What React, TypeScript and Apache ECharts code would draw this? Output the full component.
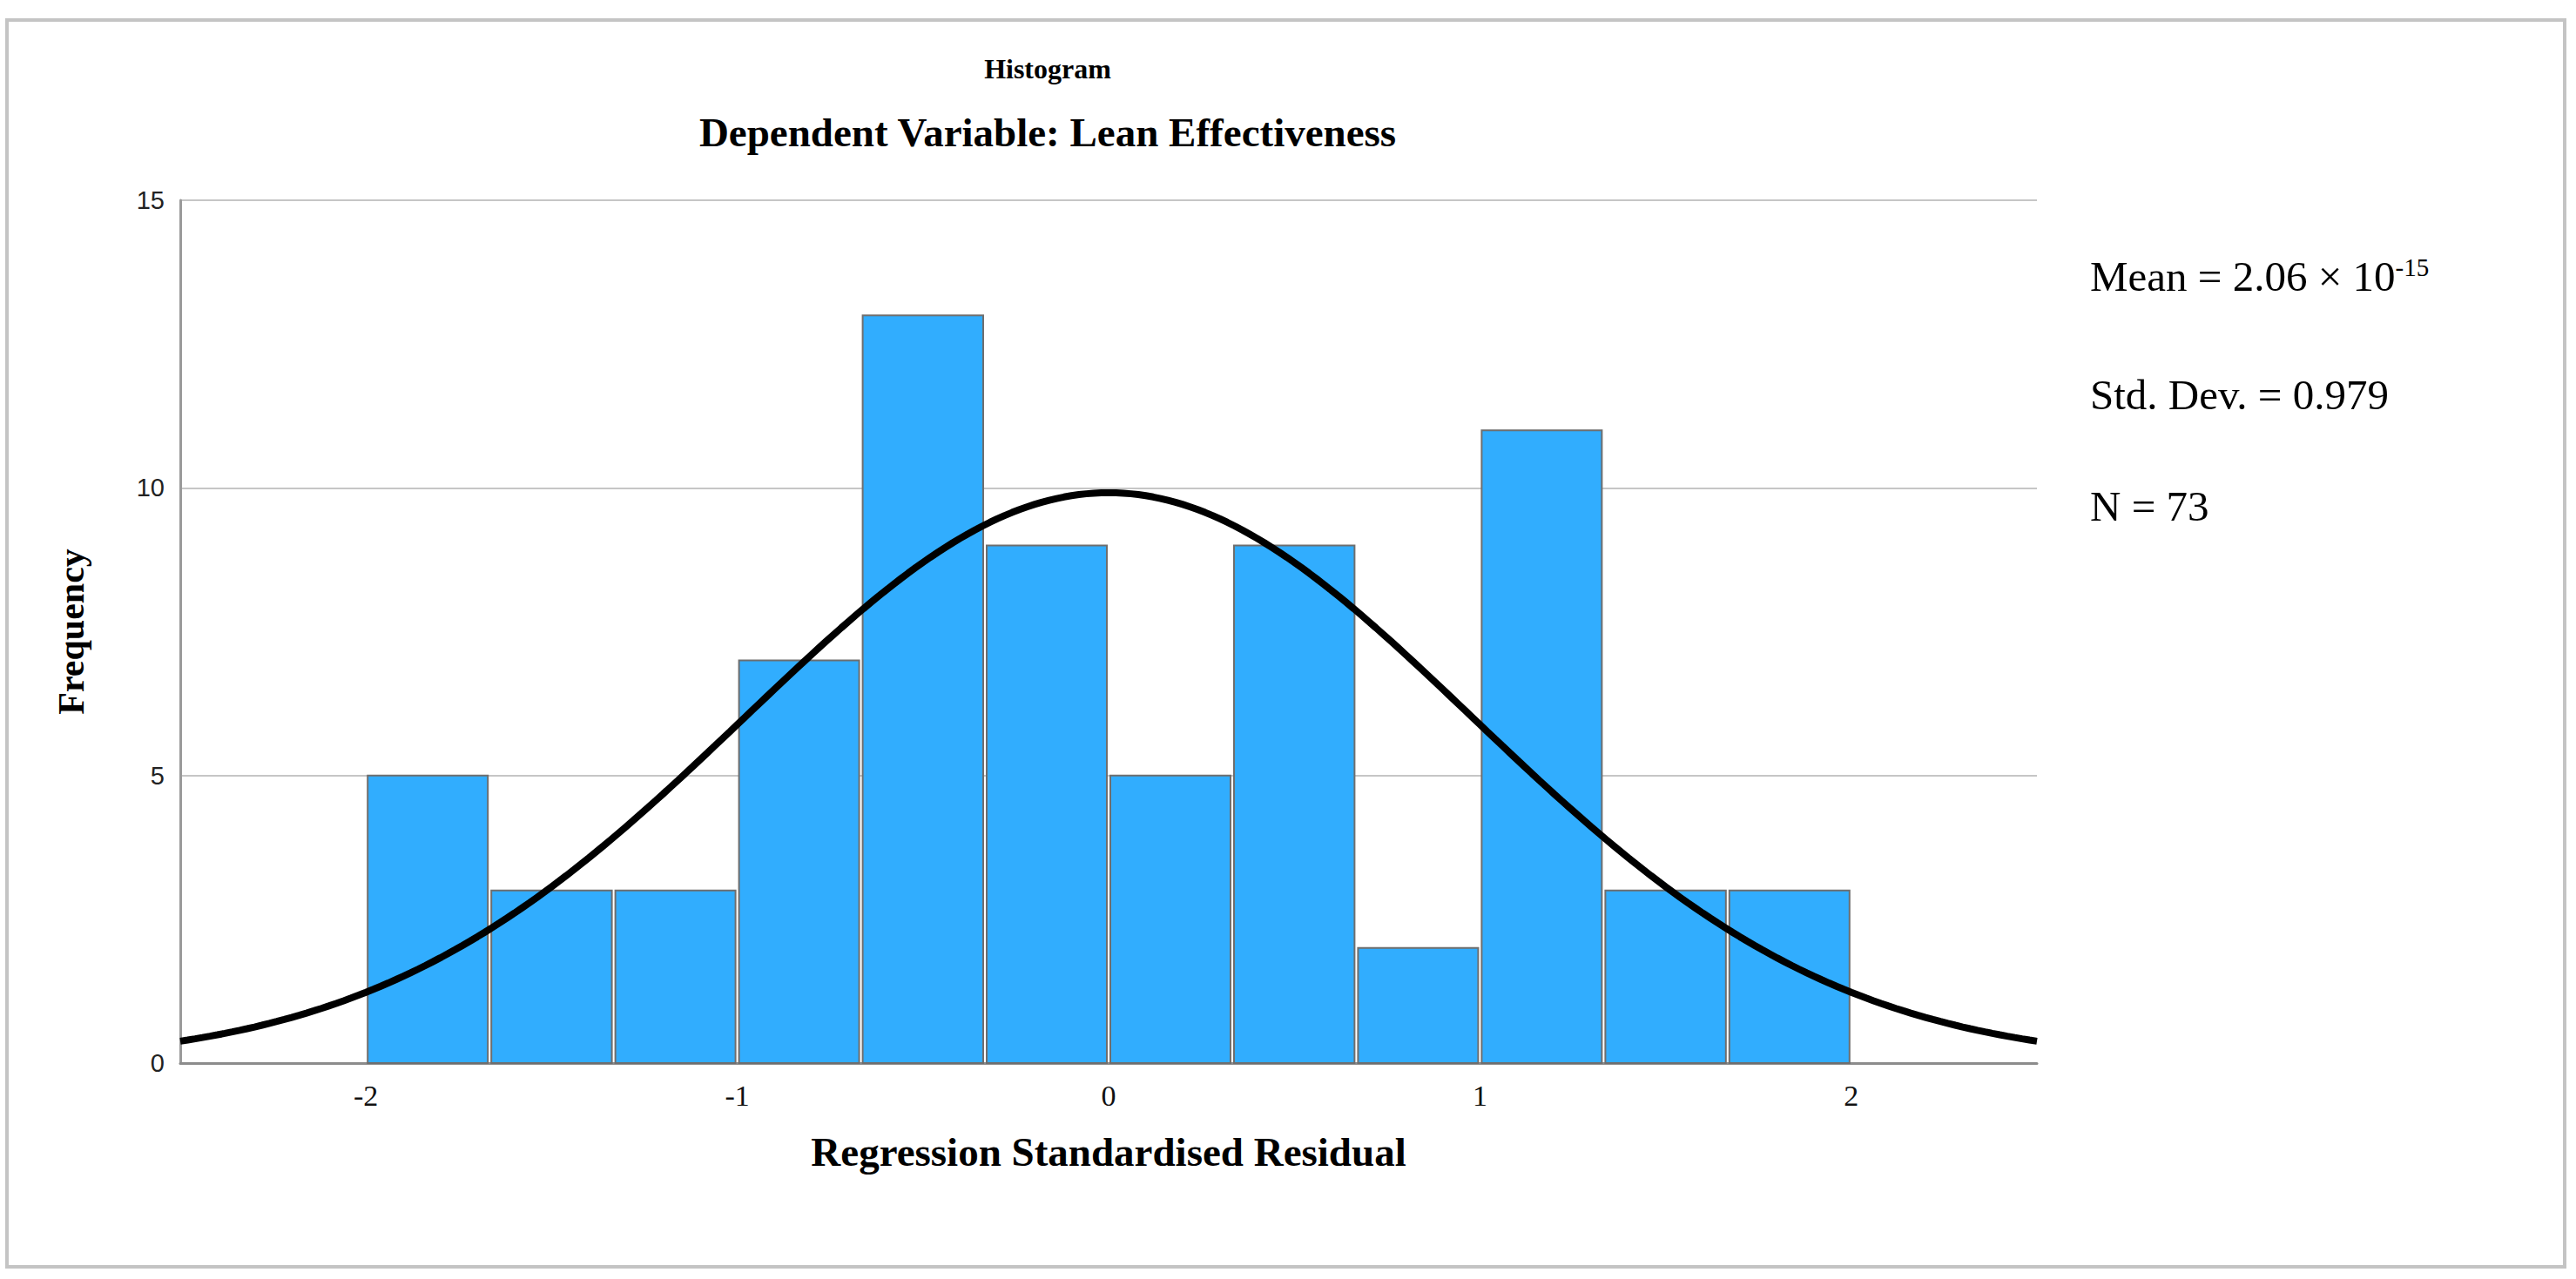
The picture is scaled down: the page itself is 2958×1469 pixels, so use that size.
import React, { useEffect, useRef } from "react";
import * as echarts from "echarts";

// Histogram bins (Regression Standardised Residual), bin edges and counts
const binEdges = [-2.0, -1.667, -1.333, -1.0, -0.667, -0.333, 0.0, 0.333, 0.667, 1.0, 1.333, 1.667, 2.0];
const frequencies = [5, 3, 3, 7, 13, 9, 5, 9, 2, 11, 3, 3];
const xTickValues = [-2, -1, 0, 1, 2];
const yTickMax = 15;
const yTickStep = 5;

// Summary statistics shown on the chart
const statMean = 2.06e-15;
const statSd = 0.979;
const statN = 73;
const binWidth = 1 / 3;

const serif = "'Liberation Serif', 'Times New Roman', serif";
const sans = "'Liberation Sans', Arial, sans-serif";

function buildCurve(): number[][] {
  // fitted normal curve drawn by the histogram: N * binWidth * pdf(x; mean, sd)
  const pts: number[][] = [];
  for (let i = 0; i <= 250; i++) {
    const x = -2.5 + i * 0.02;
    const z = (x - statMean) / statSd;
    const y = (statN * binWidth * Math.exp(-0.5 * z * z)) / (statSd * Math.sqrt(2 * Math.PI));
    pts.push([x, y]);
  }
  return pts;
}

export default function App() {
  const ref = useRef<HTMLDivElement>(null);

  useEffect(() => {
    if (!ref.current) return;
    const chart = echarts.init(ref.current, undefined, { renderer: "svg" });
    const barData = frequencies.map((f, i) => [binEdges[i], binEdges[i + 1], f]);

    chart.setOption({
      animation: false,
      backgroundColor: "#ffffff",
      grid: { left: 207, right: 619, top: 230, bottom: 248, containLabel: false },
      xAxis: {
        type: "value",
        min: -2.5,
        max: 2.5,
        name: "Regression Standardised Residual",
        nameLocation: "middle",
        nameGap: 78,
        nameTextStyle: { fontFamily: serif, fontWeight: "bold", fontSize: 47, color: "#000" },
        axisLine: { show: true, onZero: false, lineStyle: { color: "#8c8c8c", width: 3 } },
        axisTick: { show: false },
        splitLine: { show: false },
        axisLabel: {
          customValues: xTickValues,
          fontFamily: serif,
          fontSize: 34,
          color: "#111",
          margin: 20,
        },
      },
      yAxis: {
        type: "value",
        min: 0,
        max: yTickMax,
        interval: yTickStep,
        name: "Frequency",
        nameLocation: "middle",
        nameGap: 104,
        nameRotate: 90,
        nameTextStyle: { fontFamily: serif, fontWeight: "bold", fontSize: 42, color: "#000" },
        axisLine: { show: true, onZero: false, lineStyle: { color: "#9a9a9a", width: 3 } },
        axisTick: { show: false },
        splitLine: { show: true, lineStyle: { color: "#c6c6c6", width: 2 } },
        axisLabel: { fontFamily: sans, fontSize: 29, color: "#222", margin: 18 },
      },
      series: [
        {
          type: "custom",
          data: barData,
          encode: { x: [0, 1], y: 2 },
          z: 2,
          renderItem: (params: any, api: any) => {
            const x0 = api.value(0);
            const x1 = api.value(1);
            const v = api.value(2);
            const p0 = api.coord([x0, v]);
            const p1 = api.coord([x1, 0]);
            return {
              type: "rect",
              shape: { x: p0[0] + 2, y: p0[1], width: p1[0] - p0[0] - 4, height: p1[1] - p0[1] },
              style: { fill: "#31adfe", stroke: "#6e6e6e", lineWidth: 2 },
            };
          },
        },
        {
          type: "line",
          data: buildCurve(),
          showSymbol: false,
          symbol: "none",
          smooth: false,
          z: 5,
          lineStyle: { color: "#000", width: 8 },
        },
      ],
      graphic: [
        {
          type: "rect",
          z: -10,
          shape: { x: 8, y: 23, width: 2937, height: 1432 },
          style: { fill: "none", stroke: "#c4c4c4", lineWidth: 4 },
        },
        {
          type: "text",
          x: 1203,
          y: 79,
          style: {
            text: "Histogram",
            fontFamily: serif,
            fontWeight: "bold",
            fontSize: 32,
            fill: "#000",
            align: "center",
            verticalAlign: "middle",
          },
        },
        {
          type: "text",
          x: 1203,
          y: 152,
          style: {
            text: "Dependent Variable: Lean Effectiveness",
            fontFamily: serif,
            fontWeight: "bold",
            fontSize: 47,
            fill: "#000",
            align: "center",
            verticalAlign: "middle",
          },
        },
        {
          type: "text",
          x: 2400,
          y: 317,
          style: {
            text: "Mean = 2.06 × 10{sup|-15}",
            fontFamily: serif,
            fontSize: 49,
            fill: "#000",
            align: "left",
            verticalAlign: "middle",
            rich: {
              sup: { fontFamily: serif, fontSize: 29, verticalAlign: "top", lineHeight: 29, fill: "#000" },
            },
          },
        },
        {
          type: "text",
          x: 2400,
          y: 453,
          style: {
            text: "Std. Dev. = 0.979",
            fontFamily: serif,
            fontSize: 49,
            fill: "#000",
            align: "left",
            verticalAlign: "middle",
          },
        },
        {
          type: "text",
          x: 2400,
          y: 581,
          style: {
            text: "N = 73",
            fontFamily: serif,
            fontSize: 49,
            fill: "#000",
            align: "left",
            verticalAlign: "middle",
          },
        },
      ],
    });

    return () => chart.dispose();
  }, []);

  return (
    <div
      ref={ref}
      style={{ position: "fixed", left: 0, top: 0, width: "2958px", height: "1469px", background: "#fff" }}
    />
  );
}
